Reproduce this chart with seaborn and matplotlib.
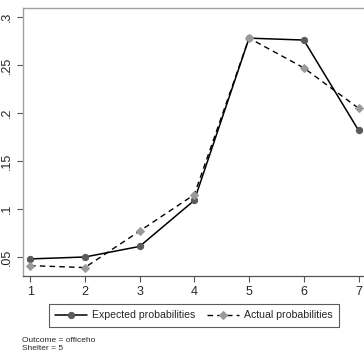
import matplotlib
matplotlib.use("Agg")
import matplotlib.pyplot as plt
import seaborn as sns
import pandas as pd

# data
categories = [1, 2, 3, 4, 5, 6, 7]
expected = [0.048, 0.050, 0.061, 0.109, 0.278, 0.276, 0.182]
actual = [0.041, 0.039, 0.077, 0.115, 0.278, 0.247, 0.205]
y_ticks = [0.05, 0.1, 0.15, 0.2, 0.25, 0.3]
y_labels = [".05", ".1", ".15", ".2", ".25", ".3"]

df = pd.DataFrame({"x": categories, "expected": expected, "actual": actual})

sns.set_style("white")
plt.rcParams["font.family"] = ["Liberation Sans", "DejaVu Sans"]

fig = plt.figure(figsize=(3.64, 3.56), dpi=100)
ax = fig.add_axes([23 / 364, 1 - 276 / 356, 1 - 23 / 364, 268 / 356])

sns.lineplot(data=df, x="x", y="expected", ax=ax, color="black", linewidth=1.1,
             marker="o", markersize=4.5, markerfacecolor="#5a5a5a",
             markeredgecolor="#5a5a5a", label="Expected probabilities")
sns.lineplot(data=df, x="x", y="actual", ax=ax, color="black", linewidth=1.0,
             linestyle=(0, (4, 3)), marker="D", markersize=4.5,
             markerfacecolor="#9a9a9a", markeredgecolor="#9a9a9a",
             label="Actual probabilities")

ax.set_xlim(0.87, 7.1)
ax.set_ylim(0.0302, 0.3094)
ax.set_xticks(categories)
ax.set_yticks(y_ticks)
ax.set_yticklabels(y_labels, rotation=90, va="center")
ax.set_xlabel("")
ax.set_ylabel("")
ax.tick_params(axis="both", which="both", direction="out", length=4, width=0.8,
               color="#555555", labelsize=9, pad=3, left=True, bottom=True)

for side in ["left", "top"]:
    ax.spines[side].set_color("#a0a0a0")
    ax.spines[side].set_linewidth(1.0)
ax.spines["bottom"].set_color("#555555")
ax.spines["bottom"].set_linewidth(0.9)
ax.spines["right"].set_visible(False)

handles, labels = ax.get_legend_handles_labels()
ax.get_legend().remove()
leg = fig.legend(handles, labels, loc="center", ncol=2,
                 bbox_to_anchor=(194 / 364, 1 - 315.5 / 356), fontsize=7.6,
                 frameon=True, fancybox=False, edgecolor="#333333",
                 handlelength=3.0, columnspacing=1.1, handletextpad=0.5,
                 borderpad=0.6, borderaxespad=0)
leg.get_frame().set_linewidth(0.8)

fig.text(22 / 364, 1 - 340 / 356, "Outcome = officeho", fontsize=6.0, va="center")
fig.text(22 / 364, 1 - 349 / 356, "Shelter = 5", fontsize=6.0, va="center")

fig.savefig("out.png", dpi=100)
